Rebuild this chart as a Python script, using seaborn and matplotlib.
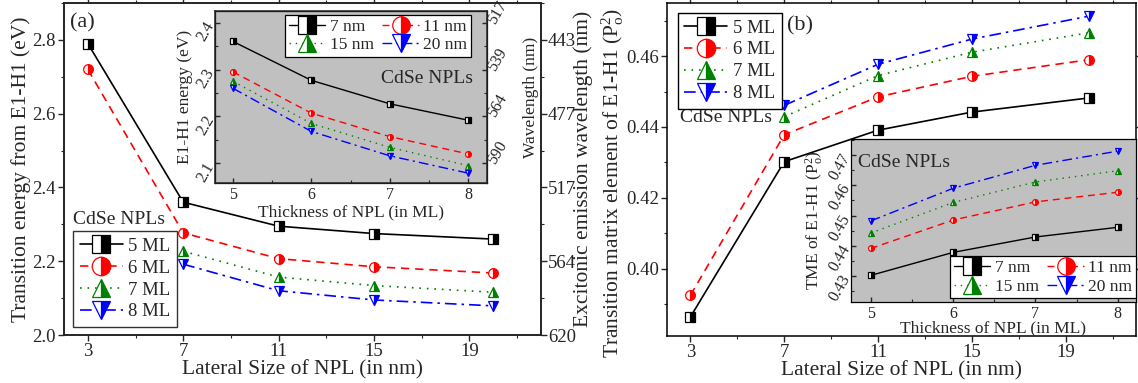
import numpy as np
import matplotlib
matplotlib.use("Agg")
import matplotlib.pyplot as plt
import seaborn as sns
from matplotlib.ticker import FixedLocator, MultipleLocator, FormatStrFormatter

# ---------------- data ----------------
lateral_nm = [3, 7, 11, 15, 20]          # lateral size of the NPL (nm)
thickness_ml = [5, 6, 7, 8]              # thickness of the NPL (monolayers)
ml_labels = ["5 ML", "6 ML", "7 ML", "8 ML"]
nm_labels = ["7 nm", "11 nm", "15 nm", "20 nm"]

# E1-H1 transition energy (eV) vs lateral size, one list per thickness
energy_5ml = [2.79, 2.360, 2.295, 2.275, 2.260]
energy_6ml = [2.72, 2.277, 2.207, 2.185, 2.168]
energy_7ml = [np.nan, 2.227, 2.157, 2.134, 2.116]
energy_8ml = [np.nan, 2.192, 2.120, 2.095, 2.079]

# E1-H1 transition matrix element (P_o^2) vs lateral size, one list per thickness
tme_5ml = [0.3864, 0.4302, 0.4391, 0.4442, 0.4482]
tme_6ml = [0.3925, 0.4378, 0.4485, 0.4543, 0.4590]
tme_7ml = [np.nan, 0.4429, 0.4545, 0.4611, 0.4666]
tme_8ml = [np.nan, 0.4461, 0.4577, 0.4648, 0.4713]

energy_ticks_main = [2.0, 2.2, 2.4, 2.6, 2.8]
energy_ticks_inset = [2.1, 2.2, 2.3, 2.4]
tme_ticks_main = [0.40, 0.42, 0.44, 0.46]
tme_ticks_inset = [0.43, 0.44, 0.45, 0.46, 0.47]
lateral_ticks = [3, 7, 11, 15, 19]

HC = 1239.84  # eV*nm, photon energy -> wavelength

# ---------------- style ----------------
sns.set_style("ticks")
plt.rcParams["font.family"] = ["Liberation Serif", "DejaVu Serif"]
plt.rcParams["mathtext.fontset"] = "custom"
plt.rcParams["mathtext.rm"] = "Liberation Serif"
plt.rcParams["mathtext.it"] = "Liberation Serif:italic"
plt.rcParams["axes.linewidth"] = 1.1
plt.rcParams["xtick.major.width"] = 1.0
plt.rcParams["ytick.major.width"] = 1.0
plt.rcParams["xtick.minor.width"] = 0.8
plt.rcParams["ytick.minor.width"] = 0.8

colors = ["black", "red", "green", "blue"]
linestyles = ["-", (0, (5, 3.5)), (0, (1, 3.5)), (0, (7, 3, 1.5, 3))]
markers = ["s", "o", "^", "v"]
GRAY = "#c0c0c0"

FS = 13.5        # tick labels, legends, annotations
FS_LAB = 15.5    # main axis titles
FS_IN = 11.5     # inset ticks
FS_IN_LAB = 12.5 # inset axis titles

fig = plt.figure(figsize=(11.38, 3.83), dpi=100)
ax_a = fig.add_axes([0.0562, 0.1253, 0.4192, 0.8669])
ax_b = fig.add_axes([0.5861, 0.1227, 0.4121, 0.8695])
in_a = fig.add_axes([0.1889, 0.5222, 0.2390, 0.4491])
in_b = fig.add_axes([0.7478, 0.2123, 0.2504, 0.4240])


def series(ax, x, y, i, ms, lw, label):
    x = np.asarray(x, float)
    y = np.asarray(y, float)
    ok = ~np.isnan(y)
    sns.lineplot(x=x[ok], y=y[ok], ax=ax, color=colors[i], linestyle=linestyles[i],
                 linewidth=lw, marker=markers[i], markersize=ms, fillstyle="right",
                 markerfacecolor=colors[i], markerfacecoloralt="white",
                 markeredgecolor=colors[i], markeredgewidth=0.9, label=label,
                 sort=False, estimator=None)


def style_main(ax):
    ax.set_facecolor("white")
    ax.xaxis.set_major_locator(FixedLocator(lateral_ticks))
    ax.xaxis.set_minor_locator(FixedLocator([1, 5, 9, 13, 17, 21]))
    ax.set_xlim(2, 22)
    ax.tick_params(which="both", direction="out", top=True, labelsize=FS, pad=2)
    ax.tick_params(which="major", length=4)
    ax.tick_params(which="minor", length=2.5)
    ax.set_xlabel("Lateral Size of NPL (in nm)", fontsize=FS_LAB, labelpad=0)
    for s in ax.spines.values():
        s.set_visible(True)
        s.set_color("black")


def style_inset(ax, xlabel):
    ax.set_facecolor(GRAY)
    ax.set_xlim(4.77, 8.24)
    ax.xaxis.set_major_locator(FixedLocator(thickness_ml))
    ax.xaxis.set_minor_locator(FixedLocator([5.5, 6.5, 7.5]))
    ax.tick_params(which="both", direction="in", labelsize=FS_IN, pad=3)
    ax.tick_params(which="major", length=3.5)
    ax.tick_params(which="minor", length=2)
    ax.set_xlabel(xlabel, fontsize=FS_IN_LAB, labelpad=1)
    for s in ax.spines.values():
        s.set_visible(True)
        s.set_color("black")
        s.set_linewidth(0.9)


def rotate_ylabels(ax, side):
    for t in ax.get_yticklabels():
        t.set_rotation(60)
        t.set_rotation_mode("anchor")
        t.set_va("center")
        t.set_ha("right" if side == "left" else "left")


def inset_legend(ax, **kw):
    h, l = ax.get_legend_handles_labels()
    order = [0, 2, 1, 3]   # fill row-wise: 7 nm, 11 nm / 15 nm, 20 nm
    leg = ax.legend([h[k] for k in order], [l[k] for k in order], ncol=2,
                    borderaxespad=0, fontsize=FS - 1, markerscale=3.0,
                    handlelength=2.1, handletextpad=0.25, columnspacing=0.5,
                    labelspacing=0.12, borderpad=0.22, frameon=True, fancybox=False,
                    edgecolor="black", framealpha=1, **kw)
    leg.get_frame().set_linewidth(0.9)
    return leg


energy_rows = [energy_5ml, energy_6ml, energy_7ml, energy_8ml]
tme_rows = [tme_5ml, tme_6ml, tme_7ml, tme_8ml]

# ---------------- (a) transition energy ----------------
for i in range(4):
    series(ax_a, lateral_nm, energy_rows[i], i, 7, 1.2, ml_labels[i])
style_main(ax_a)
ax_a.set_ylim(2.0, 2.9)
ax_a.yaxis.set_major_locator(FixedLocator(energy_ticks_main))
ax_a.yaxis.set_minor_locator(MultipleLocator(0.1))
ax_a.yaxis.set_major_formatter(FormatStrFormatter("%.1f"))
ax_a.set_ylabel("Transition energy from E1-H1 (eV)", fontsize=FS_LAB, labelpad=1)
ax_a.tick_params(right=False)

wl_a = ax_a.twinx()
wl_a.set_ylim(ax_a.get_ylim())
wl_a.yaxis.set_major_locator(FixedLocator(energy_ticks_main))
wl_a.yaxis.set_minor_locator(MultipleLocator(0.1))
wl_a.set_yticklabels([f"{HC / e:.0f}" for e in energy_ticks_main])
wl_a.tick_params(which="both", direction="out", labelsize=FS, pad=1)
wl_a.tick_params(which="major", length=4)
wl_a.tick_params(which="minor", length=2.5)
wl_a.set_ylabel("Excitonic emission wavelength (nm)", fontsize=FS_LAB, labelpad=0)
wl_a.yaxis.set_label_coords(1.068, 0.5)
wl_a.grid(False)

leg = ax_a.legend(loc="lower left", bbox_to_anchor=(0.019, 0.024), borderaxespad=0,
                  fontsize=FS, markerscale=1.9, handlelength=2.3, handletextpad=0.3,
                  labelspacing=0.25, borderpad=0.35, frameon=True, fancybox=False,
                  edgecolor="#333333", framealpha=1)
leg.get_frame().set_linewidth(1.0)
ax_a.text(0.019, 0.322, "CdSe NPLs", transform=ax_a.transAxes, fontsize=FS + 0.5,
          ha="left", va="bottom")
ax_a.text(0.013, 0.94, "(a)", transform=ax_a.transAxes, fontsize=16,
          ha="left", va="center")

# inset (a): energy vs thickness for each lateral size
for j in range(4):
    col = [row[j + 1] for row in energy_rows]
    series(in_a, thickness_ml, col, j, 4.2, 1.0, nm_labels[j])
style_inset(in_a, "Thickness of NPL (in ML)")
in_a.set_ylim(2.058, 2.425)
in_a.yaxis.set_major_locator(FixedLocator(energy_ticks_inset))
in_a.yaxis.set_minor_locator(MultipleLocator(0.05))
in_a.yaxis.set_major_formatter(FormatStrFormatter("%.1f"))
in_a.set_ylabel("E1-H1 energy (eV)", fontsize=FS_IN_LAB, labelpad=1)
rotate_ylabels(in_a, "left")

wl_in = in_a.twinx()
wl_in.set_ylim(in_a.get_ylim())
wl_in.yaxis.set_major_locator(FixedLocator(energy_ticks_inset))
wl_in.yaxis.set_minor_locator(MultipleLocator(0.05))
wl_in.set_yticklabels([f"{HC / e:.0f}" for e in energy_ticks_inset])
wl_in.tick_params(which="both", direction="in", labelsize=FS_IN, pad=3)
wl_in.tick_params(which="major", length=3.5)
wl_in.tick_params(which="minor", length=2)
wl_in.set_ylabel("Wavelength (nm)", fontsize=FS_IN_LAB, labelpad=9)
wl_in.grid(False)
rotate_ylabels(wl_in, "right")

inset_legend(in_a, loc="upper right", bbox_to_anchor=(0.941, 0.977))
in_a.text(0.949, 0.61, "CdSe NPLs", transform=in_a.transAxes, fontsize=FS + 0.5,
          ha="right", va="center")

# ---------------- (b) transition matrix element ----------------
for i in range(4):
    series(ax_b, lateral_nm, tme_rows[i], i, 7, 1.2, ml_labels[i])
style_main(ax_b)
ax_b.set_ylim(0.381, 0.475)
ax_b.yaxis.set_major_locator(FixedLocator(tme_ticks_main))
ax_b.yaxis.set_minor_locator(MultipleLocator(0.01))
ax_b.yaxis.set_major_formatter(FormatStrFormatter("%.2f"))
ax_b.tick_params(right=True)
ax_b.set_ylabel(r"Transition matrix element of E1-H1 ($\mathrm{P}_\mathrm{o}^\mathrm{2}$)",
                fontsize=FS_LAB, labelpad=0)
ax_b.yaxis.set_label_coords(-0.087, 0.46)

leg = ax_b.legend(loc="upper left", bbox_to_anchor=(0.023, 0.97), borderaxespad=0,
                  fontsize=FS, markerscale=1.9, handlelength=2.3, handletextpad=0.3,
                  labelspacing=0.25, borderpad=0.35, frameon=True, fancybox=False,
                  edgecolor="black", framealpha=1)
leg.get_frame().set_linewidth(1.0)
ax_b.text(0.028, 0.655, "CdSe NPLs", transform=ax_b.transAxes, fontsize=FS + 0.5,
          ha="left", va="center")
ax_b.text(0.256, 0.93, "(b)", transform=ax_b.transAxes, fontsize=16,
          ha="left", va="center")

# inset (b): matrix element vs thickness for each lateral size
for j in range(4):
    col = [row[j + 1] for row in tme_rows]
    series(in_b, thickness_ml, col, j, 4.2, 1.0, nm_labels[j])
style_inset(in_b, "Thickness of NPL (in ML)")
in_b.set_xlim(4.76, 8.22)
in_b.set_ylim(0.4215, 0.4752)
in_b.yaxis.set_major_locator(FixedLocator(tme_ticks_inset))
in_b.yaxis.set_minor_locator(MultipleLocator(0.005))
in_b.yaxis.set_major_formatter(FormatStrFormatter("%.2f"))
in_b.set_ylabel(r"TME of E1-H1 ($\mathrm{P}_\mathrm{o}^\mathrm{2}$)", fontsize=FS_IN_LAB,
                labelpad=1)
in_b.xaxis.labelpad = -1
rotate_ylabels(in_b, "left")

inset_legend(in_b, loc="lower right", bbox_to_anchor=(1.0, 0.02))
in_b.text(0.025, 0.855, "CdSe NPLs", transform=in_b.transAxes, fontsize=FS + 0.5,
          ha="left", va="center")

fig.savefig("out.png", dpi=100)
